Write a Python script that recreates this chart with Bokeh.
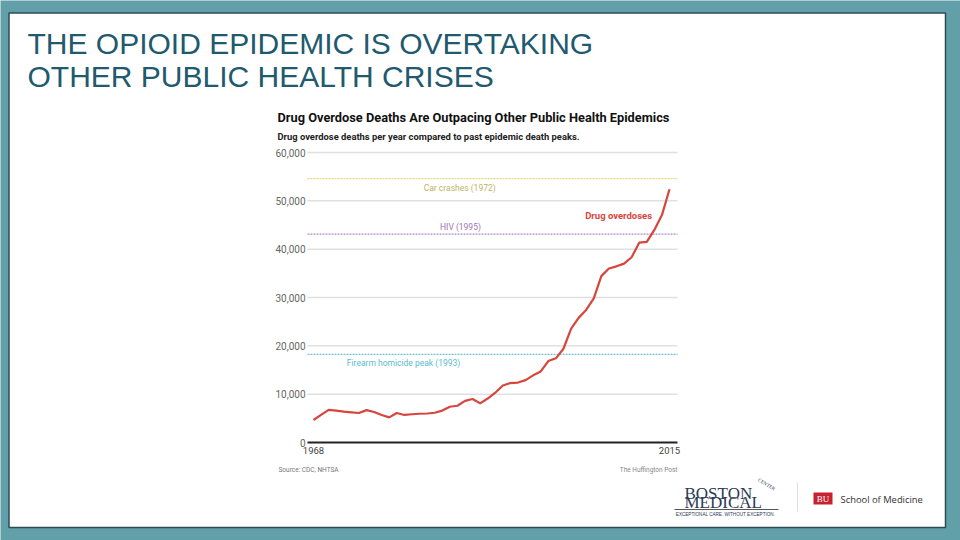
from bokeh.plotting import figure
from bokeh.models import Range1d
from bokeh.core.properties import value
from bokeh.embed import file_html
from bokeh.resources import INLINE

# ---------------- data ----------------
years = list(range(1968, 2016))
overdose_deaths = [
    4650, 5700, 6750, 6600, 6400, 6250, 6100, 6700, 6300, 5700,
    5200, 6100, 5700, 5850, 5950, 6000, 6150, 6600, 7400, 7600,
    8600, 9000, 8100, 9100, 10300, 11800, 12300, 12400, 12900, 13900,
    14700, 16849, 17415, 19394, 23518, 25785, 27424, 29813, 34425, 36010,
    36450, 37004, 38329, 41340, 41502, 43982, 47055, 52404,
]
peak_names = ["Car crashes (1972)", "HIV (1995)", "Firearm homicide peak (1993)"]
peak_values = [54589, 43115, 18253]
peak_colors = ["#e2d67a", "#b08cc4", "#6cc4d6"]
peak_text_colors = ["#bfb36a", "#9d74b3", "#5bbccf"]
y_ticks = [0, 10000, 20000, 30000, 40000, 50000, 60000]
x_ticks = [1968, 2015]

slide_title = ["THE OPIOID EPIDEMIC IS OVERTAKING", "OTHER PUBLIC HEALTH CRISES"]
chart_title = "Drug Overdose Deaths Are Outpacing Other Public Health Epidemics"
chart_subtitle = "Drug overdose deaths per year compared to past epidemic death peaks."
series_label = "Drug overdoses"
source_text = "Source: CDC, NHTSA"
credit_text = "The Huffington Post"

# ---------------- page layout (pixels) ----------------
W, H = 960, 540
FL, FR, FT, FB = 307, 677, 152, 442      # chart plotting area in page pixels
X0 = 1968 - (313 - FL) / ((669 - 313) / 47.0)
X1 = 2015 + (FR - 669) / ((669 - 313) / 47.0)
TEAL = "#62a0a9"


def Y(py):
    """page pixel row -> slide coordinate (y up)"""
    return H - py


p = figure(width=W, height=H, output_backend="svg", toolbar_location=None,
           x_range=Range1d(0, W), y_range=Range1d(0, H),
           x_axis_type=None, y_axis_type=None, min_border=0)
p.grid.visible = False
p.outline_line_color = None
p.background_fill_color = TEAL
p.border_fill_color = TEAL

# slide panel
p.quad(left=8.5, right=945, top=Y(12.5), bottom=Y(527), fill_color="white",
       line_color="#2e4c55", line_width=1.5)

# chart sub-coordinates: years x deaths mapped into the chart area
c = p.subplot(x_source=Range1d(X0, X1), y_source=Range1d(0, 60000),
              x_target=Range1d(FL, FR), y_target=Range1d(Y(FB), Y(FT)))

grid_vals = [v for v in y_ticks if v != 0]
c.segment(x0=[X0] * len(grid_vals), x1=[X1] * len(grid_vals), y0=grid_vals,
          y1=grid_vals, line_color="#e0e0e0", line_width=1.5)
c.text(x=[X0] * len(y_ticks), y=y_ticks, text=[f"{v:,}" for v in y_ticks],
       x_offset=-2, text_align="right", text_baseline="middle",
       text_font=value("Roboto"), text_font_size="10px", text_color="#666666")

# peak reference lines
for name, val, col, tcol in zip(peak_names, peak_values, peak_colors, peak_text_colors):
    c.segment(x0=[X0], x1=[X1], y0=[val], y1=[val], line_color=col,
              line_dash="2 1", line_width=1.3)
c.text(x=[1987.3, 1987.4, 1972.4], y=peak_values, y_offset=[9, -7, 9], text=peak_names,
       text_align=["center", "center", "left"], text_baseline="middle",
       text_font=value("Roboto"), text_font_size="8.5px", text_color=peak_text_colors)

# x axis baseline + labels
c.segment(x0=[X0], x1=[X1], y0=[0], y1=[0], line_color="#222222", line_width=2)
c.text(x=x_ticks, y=[0, 0], text=[str(t) for t in x_ticks], y_offset=4,
       text_align="center", text_baseline="top", text_font=value("Roboto"),
       text_font_size="9.5px", text_color="#444444")

# overdose line
c.line(years, overdose_deaths, line_color="#d8453c", line_width=2.2)
c.text(x=[2012.7], y=[46900], text=[series_label], text_align="right",
       text_baseline="middle", text_font=value("Roboto"), text_font_style="bold",
       text_font_size="9.5px", text_color="#d8453c")

# chart titles & notes (slide pixel coordinates)
p.text(x=[277], y=[Y(117)], text=[chart_title], text_align="left",
       text_baseline="middle", text_font=value("Roboto"), text_font_style="bold",
       text_font_size="12.8px", text_color="#111111")
p.text(x=[277], y=[Y(136)], text=[chart_subtitle], text_align="left",
       text_baseline="middle", text_font=value("Roboto"), text_font_style="bold",
       text_font_size="9.4px", text_color="#222222")
p.text(x=[278], y=[Y(469)], text=[source_text], text_align="left",
       text_baseline="middle", text_font=value("Roboto"),
       text_font_size="6.5px", text_color="#777777")
p.text(x=[677], y=[Y(469)], text=[credit_text], text_align="right",
       text_baseline="middle", text_font=value("Roboto"),
       text_font_size="6.5px", text_color="#888888")

# slide title
p.text(x=[27, 27], y=[Y(43), Y(76)], text=slide_title, text_align="left",
       text_baseline="alphabetic", text_font=value("Liberation Sans"),
       text_font_size="30px", text_color="#215a6e")

# logos
p.text(x=[684, 684], y=[Y(493), Y(502)], text=["BOSTON", "MEDICAL"], text_align="left",
       text_baseline="alphabetic", text_font=value("Liberation Serif"),
       text_font_size="17px", text_color="#2b3a55")
p.text(x=[766], y=[Y(484)], text=["CENTER"], text_align="center",
       text_baseline="middle", text_font=value("Liberation Serif"),
       text_font_size="5px", text_color="#2b3a55", angle=-0.55)
p.text(x=[725], y=[Y(513.5)], text=["EXCEPTIONAL CARE. WITHOUT EXCEPTION."],
       text_align="center", text_baseline="middle",
       text_font=value("Liberation Sans"), text_font_size="4.6px",
       text_color="#2b3a55")
p.segment(x0=[674], x1=[778], y0=[Y(509)], y1=[Y(509)], line_color="#555555",
          line_width=1)
p.segment(x0=[797], x1=[797], y0=[Y(482)], y1=[Y(511)], line_color="#dddddd",
          line_width=1)
p.quad(left=813, right=832, top=Y(492), bottom=Y(504), fill_color="#c8202f",
       line_color=None)
p.text(x=[822.5], y=[Y(498.5)], text=["BU"], text_align="center",
       text_baseline="middle", text_font=value("Liberation Serif"),
       text_font_size="9px", text_color="white")
p.text(x=[840], y=[Y(499)], text=["School of Medicine"], text_align="left",
       text_baseline="middle", text_font=value("Open Sans"),
       text_font_size="9.4px", text_color="#333333")

open("out.html", "w").write(file_html(p, INLINE))
